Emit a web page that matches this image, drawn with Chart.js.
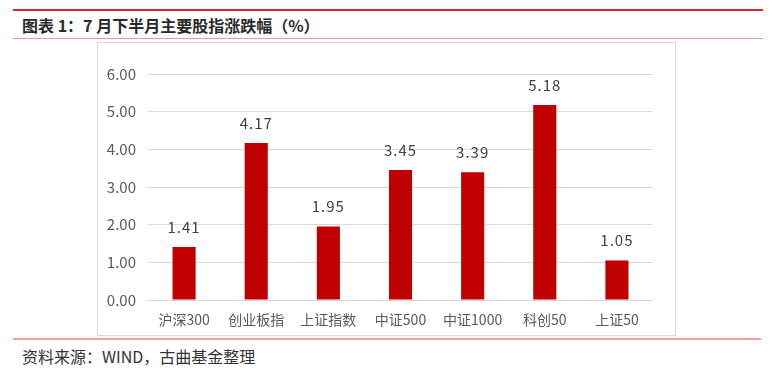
<!DOCTYPE html>
<html>
<head>
<meta charset="utf-8">
<script src="https://cdn.jsdelivr.net/npm/chart.js@4"></script>
<style>
    body { margin: 0; background: #fff; font-family: "Noto Sans CJK SC", sans-serif; }
    #page { position: relative; width: 774px; height: 370px; overflow: hidden; }
    .line-top { position: absolute; left: 13px; top: 9px; width: 750px; height: 2px; background: #d7282f; }
    .line-mid { position: absolute; left: 13px; top: 38px; width: 750px; height: 1px; background: #ee9a9c; }
    .line-bot { position: absolute; left: 13px; top: 338px; width: 748px; height: 2px; background: #ef9ea0; }
    .title { position: absolute; left: 22px; top: 13px; font-size: 16px; font-weight: bold; color: #2b2b2b; line-height: 24px; }
    .source { position: absolute; left: 22px; top: 344px; font-size: 16px; color: #333; line-height: 24px; }
    #box { position: absolute; left: 97px; top: 42px; width: 577px; height: 292px; border: 1px solid #d9d9d9; }
</style>
</head>
<body>
<div id="page">
    <div class="line-top"></div>
    <div class="title">图表 1：7 月下半月主要股指涨跌幅（%）</div>
    <div class="line-mid"></div>
    <div id="box"><canvas id="mainChart" width="577" height="292"></canvas></div>
    <div class="line-bot"></div>
    <div class="source">资料来源：WIND，古曲基金整理</div>
</div>
<script>
// Dados do gráfico
const categorias = ['沪深300', '创业板指', '上证指数', '中证500', '中证1000', '科创50', '上证50'];
const valores = [1.41, 4.17, 1.95, 3.45, 3.39, 5.18, 1.05];
const ticksY = [0, 1, 2, 3, 4, 5, 6];

const fonte = '"Noto Sans CJK SC", sans-serif';

// Rótulos acima das barras
const rotulos = {
    id: 'rotulos',
    afterDatasetsDraw(chart) {
        const ctx = chart.ctx;
        const meta = chart.getDatasetMeta(0);
        ctx.save();
        ctx.font = '15px ' + fonte;
        ctx.letterSpacing = '1px';
        ctx.fillStyle = '#404040';
        ctx.textAlign = 'center';
        ctx.textBaseline = 'middle';
        meta.data.forEach((bar, i) => {
            ctx.fillText(valores[i].toFixed(2), bar.x, bar.y - 20);
        });
        ctx.restore();
    }
};

const ctx = document.getElementById('mainChart').getContext('2d');
new Chart(ctx, {
    type: 'bar',
    data: {
        labels: categorias,
        datasets: [{
            data: valores,
            backgroundColor: '#c00000',
            categoryPercentage: 1,
            barPercentage: 0.32
        }]
    },
    options: {
        responsive: false,
        animation: false,
        layout: { padding: { top: 31, right: 22, bottom: 0, left: 0 } },
        plugins: { legend: { display: false }, tooltip: { enabled: false } },
        scales: {
            y: {
                min: 0,
                max: 6,
                afterFit: (s) => { s.width = 50; },
                afterBuildTicks: (s) => { s.ticks = ticksY.map(v => ({ value: v })); },
                border: { display: false },
                grid: { color: '#d9d9d9', drawTicks: false },
                ticks: {
                    padding: 12,
                    color: '#595959',
                    font: { size: 15, family: fonte },
                    callback: (v) => v.toFixed(2)
                }
            },
            x: {
                afterFit: (s) => { s.height = 35; },
                border: { display: false },
                grid: { display: false, drawTicks: false },
                ticks: {
                    padding: 11,
                    color: '#595959',
                    font: { size: 14, family: fonte },
                    maxRotation: 0
                }
            }
        }
    },
    plugins: [rotulos]
});
</script>
</body>
</html>
